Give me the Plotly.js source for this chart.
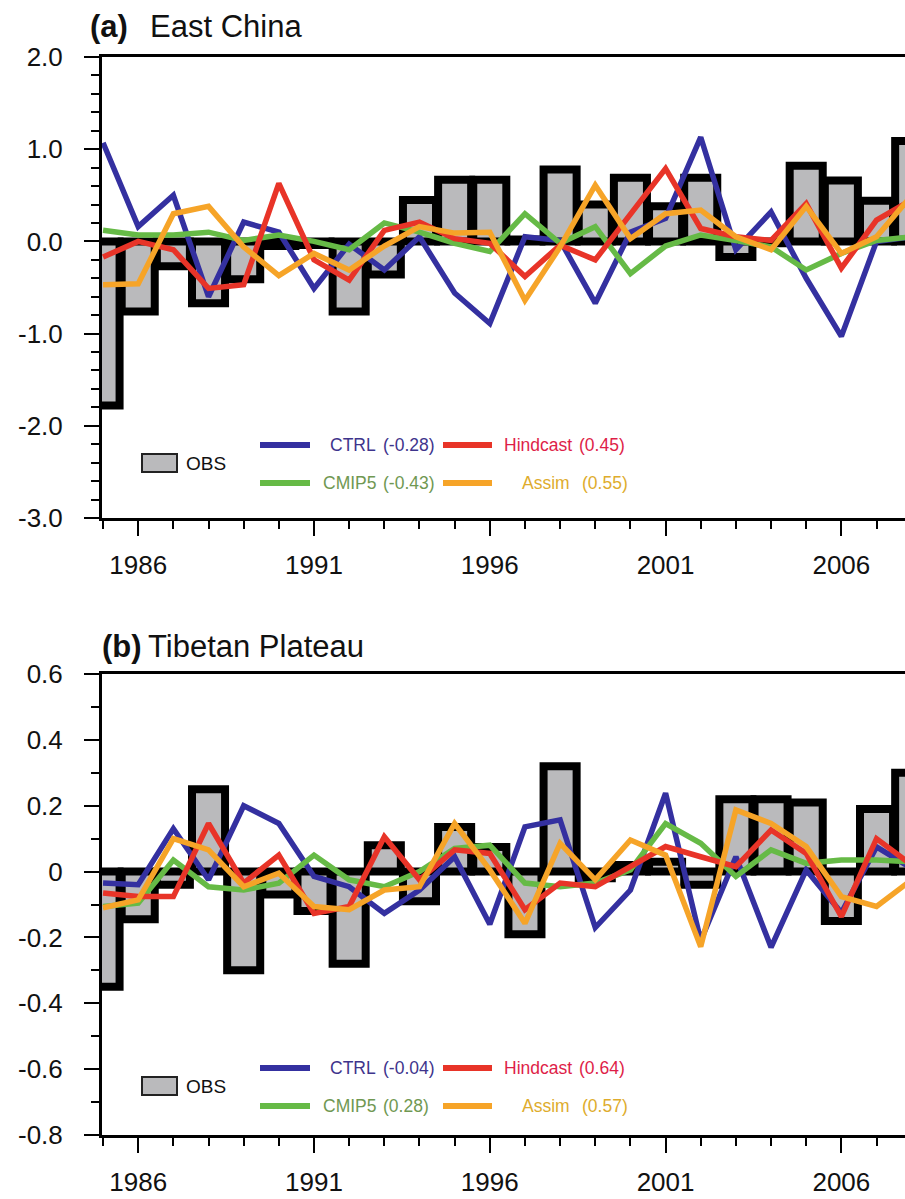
<!DOCTYPE html>
<html><head><meta charset="utf-8">
<script src="https://cdn.plot.ly/plotly-3.0.1.min.js"></script>
<style>html,body{margin:0;padding:0;background:#fff}#chart{width:905px;height:1199px}</style>
</head><body><div id="chart"></div>
<script>
// ---------- DATA ----------
const years = [1985,1986,1987,1988,1989,1990,1991,1992,1993,1994,1995,1996,1997,1998,1999,2000,2001,2002,2003,2004,2005,2006,2007,2008];

// (a) East China
const obsA    = [-1.78,-0.76,-0.27,-0.67,-0.41,-0.05,-0.04,-0.76,-0.36,0.45,0.67,0.67,0.02,0.78,0.40,0.69,0.38,0.69,-0.17,-0.02,0.82,0.66,0.44,1.09];
const ctrlA   = [1.07,0.16,0.50,-0.60,0.21,0.10,-0.51,-0.03,-0.31,0.05,-0.56,-0.89,0.05,0.01,-0.67,0.10,0.25,1.13,-0.09,0.32,-0.40,-1.03,0.00,0.05];
const cmipA   = [0.12,0.07,0.07,0.10,0.01,0.07,0.00,-0.09,0.20,0.10,-0.02,-0.11,0.30,-0.02,0.16,-0.35,-0.05,0.07,0.01,-0.06,-0.31,-0.13,0.01,0.05];
const hindA   = [-0.17,0.00,-0.09,-0.51,-0.47,0.63,-0.20,-0.42,0.12,0.21,0.03,-0.02,-0.38,-0.04,-0.20,0.30,0.79,0.14,0.05,0.01,0.41,-0.29,0.23,0.45];
const assimA  = [-0.47,-0.46,0.30,0.38,-0.06,-0.37,-0.13,-0.31,-0.05,0.16,0.09,0.10,-0.64,-0.06,0.61,0.03,0.30,0.34,0.05,-0.09,0.38,-0.13,0.05,0.50];

// (b) Tibetan Plateau
const obsB    = [-0.35,-0.145,-0.04,0.25,-0.30,-0.07,-0.12,-0.28,0.08,-0.09,0.135,0.075,-0.19,0.32,-0.02,0.02,0.03,-0.04,0.22,0.22,0.21,-0.15,0.19,0.30];
const ctrlB   = [-0.035,-0.04,0.13,-0.025,0.20,0.146,-0.015,-0.046,-0.127,-0.056,0.045,-0.16,0.136,0.157,-0.17,-0.056,0.238,-0.21,0.045,-0.23,0.005,-0.125,0.075,0.01];
const cmipB   = [-0.106,-0.096,0.035,-0.046,-0.056,-0.035,0.05,-0.025,-0.046,0.0,0.07,0.08,-0.035,-0.046,-0.035,0.005,0.146,0.086,-0.015,0.066,0.025,0.035,0.035,0.03];
const hindB   = [-0.065,-0.076,-0.076,0.146,-0.035,0.05,-0.127,-0.106,0.106,-0.025,0.066,0.055,-0.116,-0.035,-0.046,0.015,0.076,0.045,0.015,0.126,0.055,-0.137,0.10,0.02];
const assimB  = [-0.11,-0.086,0.10,0.066,-0.046,-0.005,-0.106,-0.116,-0.056,-0.046,0.146,0.005,-0.157,0.086,-0.025,0.096,0.05,-0.228,0.187,0.146,0.076,-0.076,-0.106,-0.025];

// labels
const seriesNames = ['CTRL','Hindcast','CMIP5','Assim'];
const corrA = ['(-0.28)','(0.45)','(-0.43)','(0.55)'];
const corrB = ['(-0.04)','(0.64)','(0.28)','(0.57)'];
const obsName = 'OBS';
const panelTags = ['(a)','(b)'];
const panelNames = ['East China','Tibetan Plateau'];
const xTickVals = [1986,1991,1996,2001,2006];
const xTickText = ['1986','1991','1996','2001','2006'];
const yTickValsA = [2,1,0,-1,-2,-3];
const yTickTextA = ['2.0','1.0','0.0','-1.0','-2.0','-3.0'];
const yTickValsB = [0.6,0.4,0.2,0,-0.2,-0.4,-0.6,-0.8];
const yTickTextB = ['0.6','0.4','0.2','0','-0.2','-0.4','-0.6','-0.8'];

// ---------- STYLE ----------
const FONT = 'Liberation Sans, Arial, Helvetica, sans-serif';
const LFONT = 'Liberation Sans, Arial, sans-serif';
const lineColors = {CTRL:'rgb(52,48,160)', Hindcast:'rgb(232,52,40)', CMIP5:'rgb(102,186,70)', Assim:'rgb(246,164,40)'};
const textColors = {CTRL:'rgb(62,52,140)', Hindcast:'rgb(222,30,72)', CMIP5:'rgb(112,152,82)', Assim:'rgb(222,172,44)'};
const W = 905, H = 1199, ML = 102, MR = 0, MT = 57, MB = 64;
const PW = W - ML - MR, PH = H - MT - MB;
const px = x => (x - ML) / PW;
const py = y => (H - MB - y) / PH;

const data = [];
function addPanel(xa, ya, obs, ctrl, cmip, hind, assim) {
  data.push({type:'bar', x:years, y:obs, xaxis:xa, yaxis:ya, width:0.94,
    marker:{color:'rgb(186,186,188)', line:{color:'#000', width:8}}, showlegend:false, hoverinfo:'x+y'});
  const order = [['CTRL',ctrl],['CMIP5',cmip],['Hindcast',hind],['Assim',assim]];
  order.forEach(([n,v]) => data.push({type:'scatter', mode:'lines', x:years, y:v, xaxis:xa, yaxis:ya,
    line:{color:lineColors[n], width:5.5}, showlegend:false, name:n}));
}
addPanel('x','y',obsA,ctrlA,cmipA,hindA,assimA);
addPanel('x2','y2',obsB,ctrlB,cmipB,hindB,assimB);

function xaxisDef(anchor) {
  return {anchor:anchor, domain:[0,1], range:[1984.97,2007.81], tickmode:'array', tickvals:xTickVals, ticktext:xTickText,
    ticks:'outside', ticklen:15, tickwidth:2, tickcolor:'#000', showline:true, linewidth:3, linecolor:'#000',
    mirror:true, showgrid:false, zeroline:false, ticklabelstandoff:7,
    tickfont:{family:FONT, size:26, color:'#111'},
    minor:{tickmode:'linear', tick0:1985, dtick:1, ticks:'outside', ticklen:8, tickwidth:2, tickcolor:'#000', showgrid:false}};
}
function yaxisDef(anchor, dom, range, tv, tt, minorStep) {
  return {anchor:anchor, domain:dom, range:range, tickmode:'array', tickvals:tv, ticktext:tt,
    ticks:'outside', ticklen:15, tickwidth:2, tickcolor:'#000', showline:true, linewidth:3, linecolor:'#000',
    mirror:false, showgrid:false, zeroline:false, ticklabelstandoff:16,
    tickfont:{family:FONT, size:26, color:'#111'},
    minor:{tickmode:'linear', tick0:0, dtick:minorStep, ticks:'outside', ticklen:8, tickwidth:2, tickcolor:'#000', showgrid:false}};
}
const domA = [py(518), 1], domB = [0, py(674)];

const shapes = [], annotations = [];
// zero lines
['y','y2'].forEach((ya,i) => shapes.push({type:'line', xref:(i?'x2':'x')+' domain', x0:0, x1:1, yref:ya, y0:0, y1:0,
  line:{color:'#000', width:2}, layer:'below'}));

function addLegend(yRow1, corr) {
  const yRow2 = yRow1 + 38;
  const yObs = yRow1 + 18;
  shapes.push({type:'rect', xref:'paper', yref:'paper', x0:px(142), x1:px(177), y0:py(yObs-9), y1:py(yObs+9),
    fillcolor:'rgb(186,186,188)', line:{color:'#222', width:2}});
  annotations.push({xref:'paper', yref:'paper', x:px(184), y:py(yObs), xanchor:'left', yanchor:'middle', showarrow:false,
    text:obsName, font:{family:LFONT, size:19, color:'#111'}});
  const pos = [
    {n:seriesNames[0], c:corr[0], lx:[260,310], y:yRow1, tx:328, cx:381},
    {n:seriesNames[1], c:corr[1], lx:[443,492], y:yRow1, tx:502, cx:577},
    {n:seriesNames[2], c:corr[2], lx:[260,310], y:yRow2, tx:321, cx:381},
    {n:seriesNames[3], c:corr[3], lx:[443,492], y:yRow2, tx:520, cx:580}
  ];
  pos.forEach(p => {
    shapes.push({type:'line', xref:'paper', yref:'paper', x0:px(p.lx[0]), x1:px(p.lx[1]), y0:py(p.y), y1:py(p.y),
      line:{color:lineColors[p.n], width:6}});
    annotations.push({xref:'paper', yref:'paper', x:px(p.tx), y:py(p.y), xanchor:'left', yanchor:'middle', showarrow:false,
      text:p.n, font:{family:LFONT, size:17.5, color:textColors[p.n]}});
    annotations.push({xref:'paper', yref:'paper', x:px(p.cx), y:py(p.y), xanchor:'left', yanchor:'middle', showarrow:false,
      text:p.c, font:{family:LFONT, size:17.5, color:textColors[p.n]}});
  });
}
addLegend(445, corrA);
addLegend(1068, corrB);

// panel titles
[[88,148,26],[100,146,646]].forEach(([xt,xn,yc],i) => {
  annotations.push({xref:'paper', yref:'paper', x:px(xt), y:py(yc), xanchor:'left', yanchor:'middle', showarrow:false,
    text:'<b>'+panelTags[i]+'</b>', font:{family:FONT, size:31, color:'#111'}});
  annotations.push({xref:'paper', yref:'paper', x:px(xn), y:py(yc), xanchor:'left', yanchor:'middle', showarrow:false,
    text:panelNames[i], font:{family:FONT, size:31, color:'#111'}});
});

const layout = {
  width:W, height:H, margin:{l:ML, r:MR, t:MT, b:MB, pad:0},
  paper_bgcolor:'#fff', plot_bgcolor:'#fff', showlegend:false, bargap:0,
  xaxis:xaxisDef('y'), yaxis:yaxisDef('x', domA, [-3,2], yTickValsA, yTickTextA, 0.2),
  xaxis2:xaxisDef('y2'), yaxis2:yaxisDef('x2', domB, [-0.8,0.6], yTickValsB, yTickTextB, 0.1),
  shapes:shapes, annotations:annotations, font:{family:FONT}
};
Plotly.newPlot('chart', data, layout, {staticPlot:true, displayModeBar:false});
</script></body></html>
